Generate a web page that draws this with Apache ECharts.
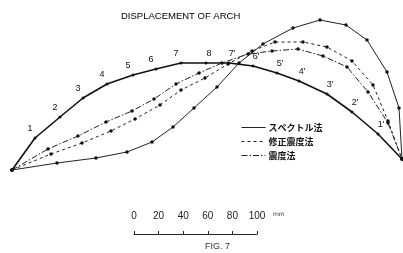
<!DOCTYPE html>
<html>
<head>
<meta charset="utf-8">
<script src="https://cdn.jsdelivr.net/npm/echarts@6/dist/echarts.min.js"></script>
<style>
  html, body { margin: 0; padding: 0; background: #fff; }
  #chart { width: 403px; height: 253px; }
</style>
</head>
<body>
<div id="chart"></div>
<script>
// arch axis (undeformed), x/y measured from the left support
var archX = [0, 23, 48, 71, 95, 121, 144, 169, 194, 217, 241, 265, 287, 315, 340, 366, 390];
var archY = [0, 32, 53, 72, 86, 95, 101, 107, 107, 107, 104, 97, 89, 76, 58, 36, 11];
var archLabels = ["", "1", "2", "3", "4", "5", "6", "7", "8", "7'", "6'", "5'", "4'", "3'", "2'", "1'", ""];

// スペクトル法
var specX = [0, 45, 84, 115, 140, 161, 182, 205, 227, 251, 281, 308, 334, 355, 375, 387, 390];
var specY = [0, 7, 12, 18, 28, 43, 62, 83, 107, 126, 142, 150, 145, 130, 98, 62, 11];

// 修正震度法
var modX = [0, 39, 70, 99, 123, 148, 169, 193, 216, 240, 263, 291, 315, 340, 361, 376, 390];
var modY = [0, 16, 27, 39, 51, 65, 80, 92, 106, 119, 128, 128, 123, 109, 85, 49, 11];

// 震度法
var seisX = [0, 36, 66, 94, 120, 142, 164, 187, 210, 236, 260, 286, 311, 335, 356, 376, 390];
var seisY = [0, 21, 34, 48, 59, 71, 86, 97, 107, 116, 119, 121, 114, 103, 78, 47, 11];

// scale bar
var scaleTicks = [0, 20, 40, 60, 80, 100];

var names = ["スペクトル法", "修正震度法", "震度法"];

function pairs(xs, ys) {
  var out = [];
  for (var i = 0; i < xs.length; i++) out.push([xs[i], ys[i]]);
  return out;
}

var myChart = echarts.init(document.getElementById("chart"));

var archData = pairs(archX, archY).map(function (p, i) {
  return {
    value: p,
    label: { offset: i < 8 ? [-5, 0] : [3, 0] }
  };
});

var option = {
  backgroundColor: "#fff",
  animation: false,
  title: [
    {
      text: "DISPLACEMENT OF ARCH",
      left: 116,
      top: 6,
      textStyle: { fontFamily: "Liberation Sans", fontSize: 9.5, fontWeight: "normal", color: "#000" }
    },
    {
      text: "FIG. 7",
      left: 200,
      top: 237,
      textStyle: { fontFamily: "Liberation Sans", fontSize: 9, fontWeight: "normal", color: "#333" }
    }
  ],
  legend: {
    data: names,
    orient: "vertical",
    left: 236,
    top: 118,
    itemWidth: 24,
    itemHeight: 6,
    itemGap: 5,
    itemStyle: { opacity: 0 },
    lineStyle: { width: 1 },
    textStyle: { fontFamily: "Noto Sans CJK JP", fontSize: 9, fontWeight: "bold", color: "#111", padding: [0, 0, 0, -2] }
  },
  grid: [
    { left: 12, right: 1, top: 0, bottom: 83 },
    { left: 134, width: 123, top: 233, height: 1 }
  ],
  xAxis: [
    { type: "value", min: 0, max: 390, show: false },
    {
      type: "value", gridIndex: 1, position: "top",
      min: 0, max: 100, interval: 20,
      axisLine: { lineStyle: { color: "#222", width: 1 } },
      axisTick: { length: 3, lineStyle: { color: "#222" } },
      splitLine: { show: false },
      axisLabel: {
        margin: 12,
        fontFamily: "Liberation Sans",
        fontSize: 10,
        color: "#222",
        formatter: function (v) { return scaleTicks.indexOf(v) >= 0 ? String(v) : ""; }
      }
    }
  ],
  yAxis: [
    { type: "value", min: 0, max: 170, show: false },
    { type: "value", gridIndex: 1, show: false }
  ],
  graphic: [
    {
      type: "text", left: 273, top: 211,
      style: { text: "mm", fontSize: 6, fontFamily: "DejaVu Sans", fill: "#333" }
    }
  ],
  series: [
    {
      name: "arch",
      type: "line",
      data: archData,
      symbol: "circle",
      symbolSize: 3,
      lineStyle: { color: "#111", width: 1.6 },
      itemStyle: { color: "#111" },
      label: {
        show: true,
        position: "top",
        distance: 3,
        fontFamily: "Liberation Sans",
        fontSize: 9,
        color: "#111",
        formatter: function (p) { return archLabels[p.dataIndex]; }
      },
      z: 3
    },
    {
      name: names[0],
      type: "line",
      data: pairs(specX, specY),
      symbol: "circle",
      symbolSize: 3.5,
      lineStyle: { color: "#222", width: 1 },
      itemStyle: { color: "#111" }
    },
    {
      name: names[1],
      type: "line",
      data: pairs(modX, modY),
      symbol: "circle",
      symbolSize: 3.5,
      lineStyle: { color: "#222", width: 1, type: [3, 3] },
      itemStyle: { color: "#111" }
    },
    {
      name: names[2],
      type: "line",
      data: pairs(seisX, seisY),
      symbol: "circle",
      symbolSize: 3.5,
      lineStyle: { color: "#222", width: 1, type: [6, 2, 1.5, 2] },
      itemStyle: { color: "#111" }
    },
    {
      type: "line",
      xAxisIndex: 1,
      yAxisIndex: 1,
      data: [],
      silent: true
    }
  ]
};

myChart.setOption(option);
window.onresize = function () {
  myChart.resize();
};
</script>
</body>
</html>
